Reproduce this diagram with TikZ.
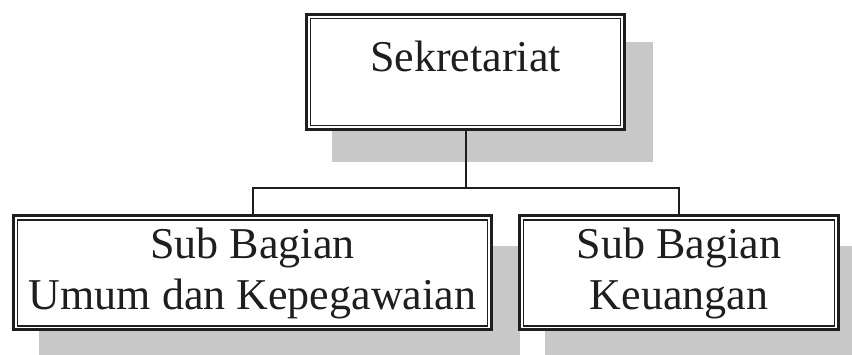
\documentclass[tikz,border=0pt]{standalone}
\usepackage{fontspec}
\setmainfont{Liberation Serif}
\definecolor{shade}{RGB}{200,200,200}
\definecolor{ink}{RGB}{30,30,30}
\tikzset{
  box/.style={draw=ink, line width=3pt, fill=white, inner xsep=0pt, inner ysep=0pt, font=\fontsize{44}{51}\selectfont, text=ink, align=center},
  innerline/.style={draw=ink, line width=1.3pt},
  shadowbox/.style={fill=shade, draw=none},
  link/.style={draw=ink, line width=2pt}
}
\begin{document}
\begin{tikzpicture}[x=1pt,y=1pt]
\useasboundingbox (0,0) rectangle (852,-355);
\clip (0,0) rectangle (852,-355);
% shadows
\path[shadowbox] (332,-42) rectangle (653,-162);
\path[shadowbox] (39,-246) rectangle (520,-363);
\path[shadowbox] (545,-246) rectangle (867,-363);
% boxes
\node[box, minimum width=318pt, text height=57.5pt, text depth=57.5pt, anchor=base] (top) at (465.5,-72) {Sekretariat};
\node[box, minimum width=478pt, minimum height=114pt] (b1) at (252.5,-273) {Sub Bagian\\Umum dan Kepegawaian};
\node[box, minimum width=319pt, minimum height=114pt] (b2) at (679,-273) {Sub Bagian\\Keuangan};
\foreach \n in {top,b1,b2}{
  \draw[innerline] ([shift={(5.5pt,-5.5pt)}]\n.north west) rectangle ([shift={(-5.5pt,5.5pt)}]\n.south east);
}
% connectors
\coordinate (j) at (top.south |- 0,-188);
\draw[link] (top.south) -- (j);
\draw[link] (j) -| (b1.north);
\draw[link] (j) -| (b2.north);
\end{tikzpicture}
\end{document}
